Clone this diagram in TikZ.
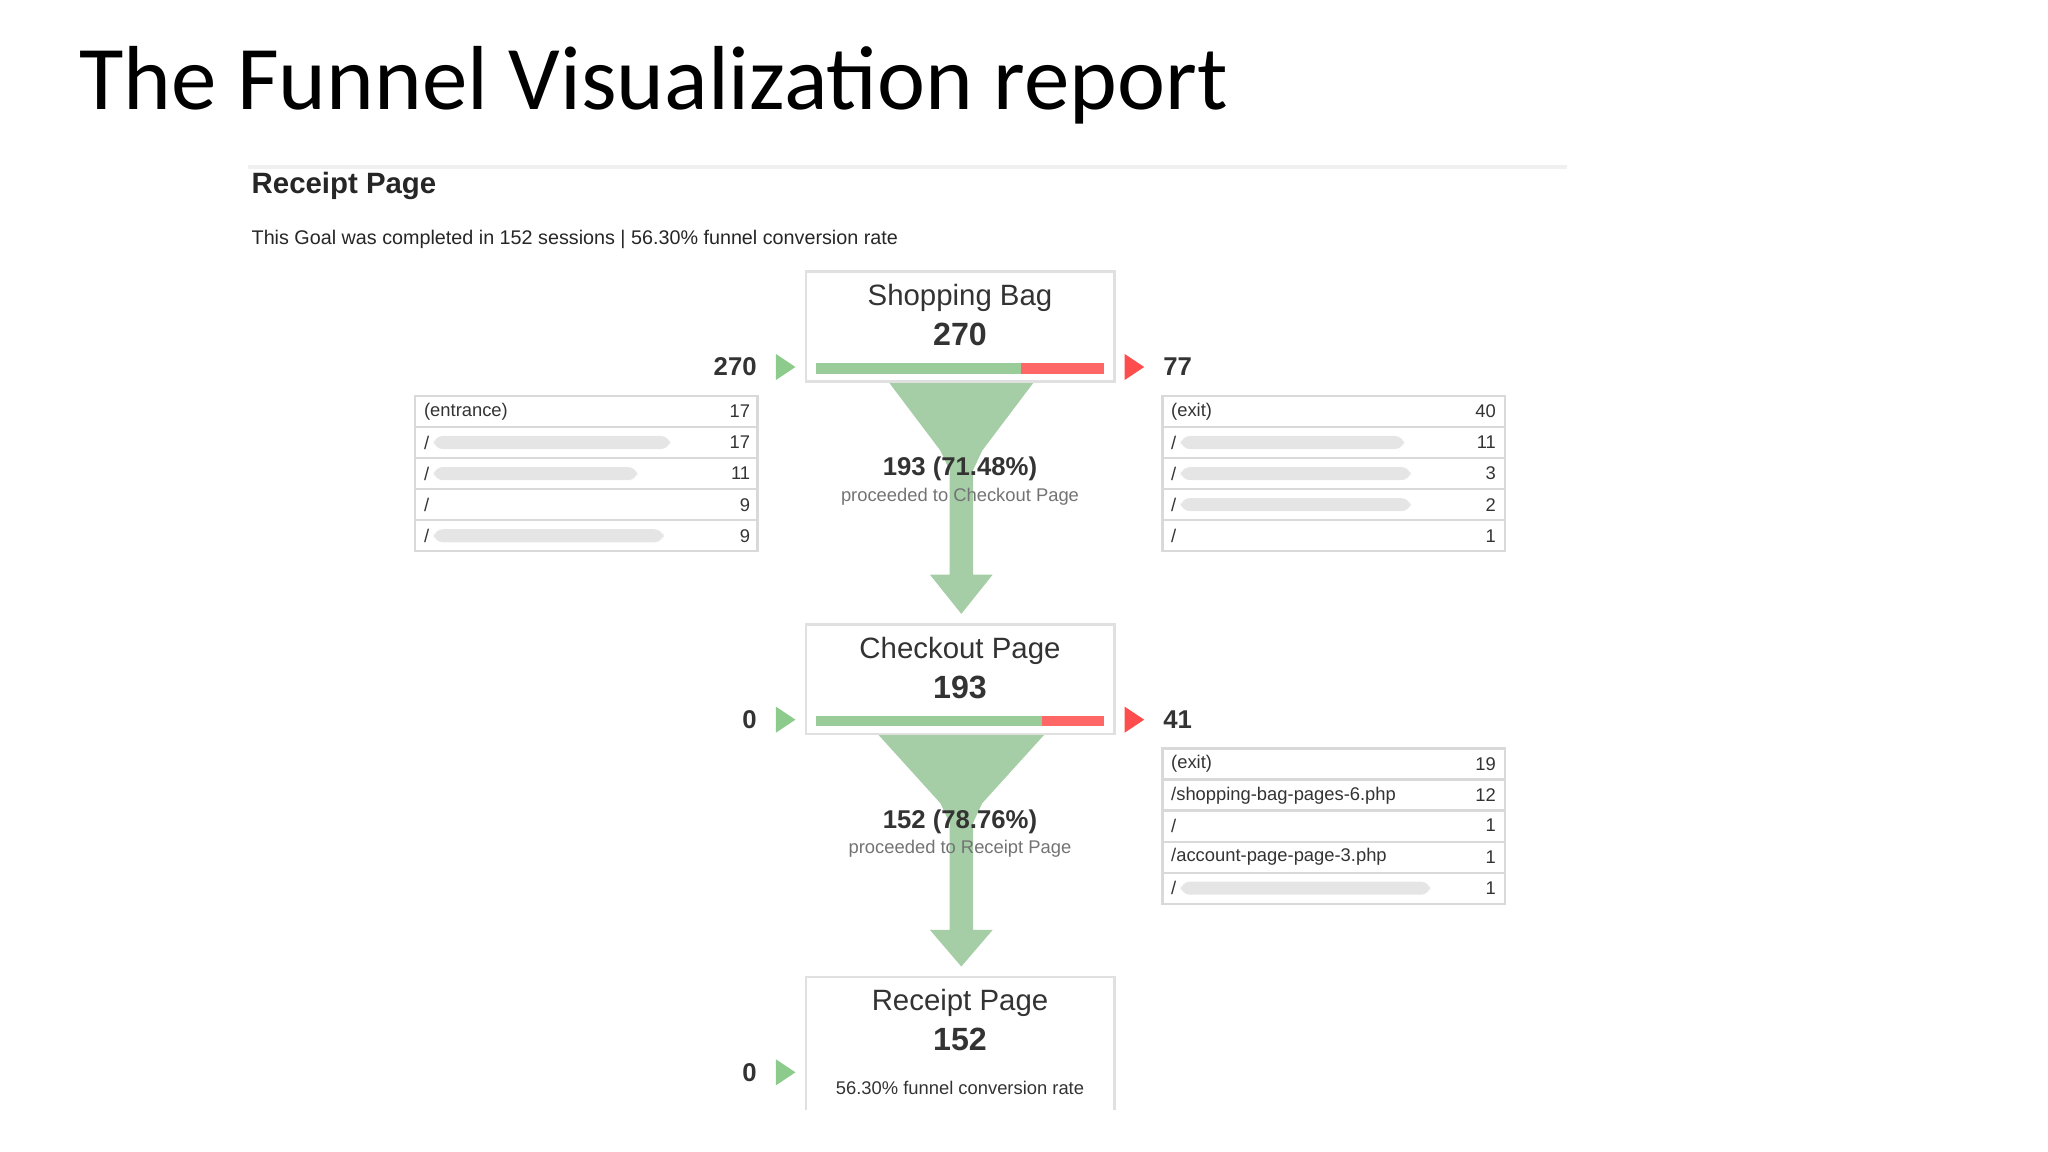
\documentclass[tikz,border=0pt]{standalone}
\usepackage{fontspec}
\setmainfont{Liberation Sans}
\newfontfamily\titlefont{Carlito}
\begin{document}
\begin{tikzpicture}[x=0.01cm,y=-0.01cm,
  box/.style={draw=black!12,line width=0.6pt,fill=white},
  tab/.style={draw=black!15,line width=0.5pt},
  smudge/.style={fill=black!10,rounded corners=2},
  gf/.style={fill=green!45!black!35!white,draw=none},
  num/.style={inner sep=0,font=\fontsize{5.6}{6}\selectfont\bfseries,text=black!80},
  small/.style={inner sep=0,font=\fontsize{4}{5}\selectfont,text=black!80},
  gtri/.style={fill=green!55!black!45!white},
  rtri/.style={fill=red!70!white}]
\useasboundingbox (0,0) rectangle (1568,882);
\node[anchor=base west,inner sep=0,font=\titlefont\fontsize{19.8}{24}\selectfont] (title) at (60,84) {The Funnel Visualization report};
\draw[black!6,line width=1pt] (190,128) -- (1200,128);
\node[anchor=base west,inner sep=0,font=\fontsize{6.4}{7}\selectfont\bfseries,text=black!85] (hdr) at (192,148) {Receipt Page};
\node[anchor=base west,inner sep=0,font=\fontsize{4.3}{5}\selectfont,text=black!85] (sub) at (192,187) {This Goal was completed in 152 sessions | 56.30\% funnel conversion rate};
% funnels
\fill[gf] (680,292) -- (792,292) -- (752,345) -- (745,360) -- (745,440) -- (760,440) -- (736,470) -- (712,440) -- (727,440) -- (727,360) -- (720,345) -- cycle;
\fill[gf] (672,562) -- (800,562) -- (752,615) -- (745,630) -- (745,712) -- (760,712) -- (736,740) -- (712,712) -- (727,712) -- (727,630) -- (720,615) -- cycle;
\node[num] (p1) at (735,359) {193 (71.48\%)};
\node[small,text=black!55] (q1) at (735,380) {proceeded to Checkout Page};
\node[num] (p2) at (735,629) {152 (78.76\%)};
\node[small,text=black!55] (q2) at (735,650) {proceeded to Receipt Page};
% boxes
\foreach \y/\n/\v/\g/\nm/\lv/\rv in {208/Shopping Bag/270/782/a/270/77, 478/Checkout Page/193/798/b/0/41}{
  \draw[box] (617,\y) rectangle (853,\y+84);
  \node[font=\fontsize{6.4}{7}\selectfont,text=black!80] (t\nm) at (735,\y+20) {\n};
  \node[num,font=\fontsize{7}{8}\selectfont\bfseries] (v\nm) at (735,\y+48) {\v};
  \fill[green!50!black!40!white] (625,\y+70) rectangle (\g,\y+78);
  \fill[red!60!white] (\g,\y+70) rectangle (845,\y+78);
  \fill[gtri] (594,\y+63) -- (609,\y+73) -- (594,\y+83) -- cycle;
  \fill[rtri] (861,\y+63) -- (876,\y+73) -- (861,\y+83) -- cycle;
  \node[num,anchor=east] (l\nm) at (580,\y+73) {\lv};
  \node[num,anchor=west] (r\nm) at (890,\y+73) {\rv};
}
\draw[box] (617,850) -- (617,748) -- (853,748) -- (853,850);
\node[font=\fontsize{6.4}{7}\selectfont,text=black!80] (tc) at (735,768) {Receipt Page};
\node[num,font=\fontsize{7}{8}\selectfont\bfseries] (vc) at (735,796) {152};
\fill[gtri] (594,811) -- (609,821) -- (594,831) -- cycle;
\node[num,anchor=east] (lc) at (580,821) {0};
\node[small] (cr) at (735,833) {56.30\% funnel conversion rate};
% table frames
\foreach \x/\y in {318/303, 890/303, 890/573}{
  \foreach \i in {0,...,4}{\draw[tab] (\x,\y+\i*23.8) rectangle (\x+262,\y+\i*23.8+23.8);}}
% table 1
\node[small,anchor=west] at (324,315) {(entrance)};
\foreach \i/\v/\s in {1/17/195, 2/11/170, 3/9/0, 4/9/190}{
  \node[small,anchor=west] at (324,303+\i*23.8+12) {/};
  \node[small,anchor=east] at (575,303+\i*23.8+12) {\v};
  \ifnum\s>0 \fill[smudge] (332,303+\i*23.8+7) rectangle (318+\s,303+\i*23.8+17);\fi}
\node[small,anchor=east] at (575,315) {17};
% table 2
\node[small,anchor=west] at (896,315) {(exit)};
\node[small,anchor=east] at (1146,315) {40};
\foreach \i/\v/\s in {1/11/185, 2/3/190, 3/2/190, 4/1/0}{
  \node[small,anchor=west] at (896,303+\i*23.8+12) {/};
  \node[small,anchor=east] at (1146,303+\i*23.8+12) {\v};
  \ifnum\s>0 \fill[smudge] (904,303+\i*23.8+7) rectangle (890+\s,303+\i*23.8+17);\fi}
% table 3
\node[small,anchor=west] at (896,585) {(exit)};
\node[small,anchor=east] at (1146,585) {19};
\node[small,anchor=west] at (896,609) {/shopping-bag-pages-6.php};
\node[small,anchor=east] at (1146,609) {12};
\node[small,anchor=west] at (896,632) {/};
\node[small,anchor=east] at (1146,632) {1};
\node[small,anchor=west] at (896,656) {/account-page-page-3.php};
\node[small,anchor=east] at (1146,656) {1};
\node[small,anchor=west] at (896,680) {/};
\node[small,anchor=east] at (1146,680) {1};
\fill[smudge] (904,675) rectangle (1095,685);
\end{tikzpicture}
\end{document}
